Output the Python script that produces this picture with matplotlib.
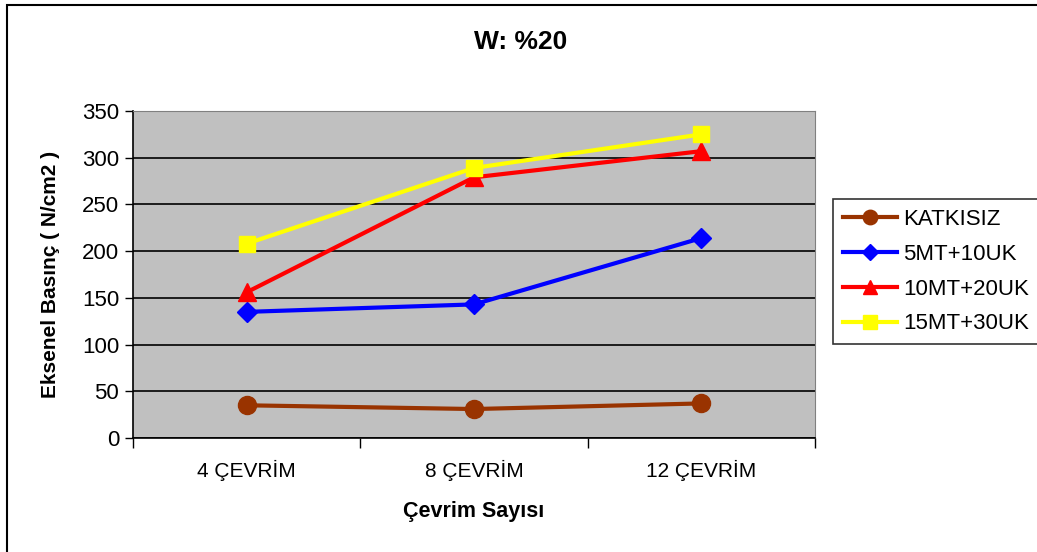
import matplotlib.pyplot as plt
import matplotlib.patches as mpatches

categories = ["4 ÇEVRİM", "8 ÇEVRİM", "12 ÇEVRİM"]
series_names = ["KATKISIZ", "5MT+10UK", "10MT+20UK", "15MT+30UK"]
katkisiz = [35, 31, 37]
mt5_uk10 = [135, 143, 214]
mt10_uk20 = [156, 279, 307]
mt15_uk30 = [208, 289, 325]
y_ticks = [0, 50, 100, 150, 200, 250, 300, 350]

plt.rcParams["font.family"] = ["Liberation Sans", "DejaVu Sans"]

fig = plt.figure(figsize=(10.37, 5.52), dpi=100)
fig.patches.append(mpatches.Rectangle((7 / 1037, -0.05), 1.1, 1 - 5 / 552 + 0.05,
                                      transform=fig.transFigure, fill=False,
                                      edgecolor="black", linewidth=1.5))
ax = fig.add_axes([133 / 1037, 1 - 438 / 552, 682 / 1037, 327 / 552])
ax.set_facecolor("#c0c0c0")

x = range(len(categories))
styles = [
    (katkisiz, "#993300", "o", 13),
    (mt5_uk10, "#0000ff", "D", 10),
    (mt10_uk20, "#ff0000", "^", 13),
    (mt15_uk30, "#ffff00", "s", 12),
]
for (vals, color, marker, ms), name in zip(styles, series_names):
    ax.plot(x, vals, color=color, marker=marker, markersize=ms, linewidth=3,
            label=name, zorder=3)

ax.set_xlim(-0.5, 2.5)
ax.set_ylim(0, 350)
ax.set_yticks(y_ticks)
ax.yaxis.grid(True, color="black", linewidth=1.2)
ax.set_axisbelow(True)
ax.set_xticks(list(x))
ax.set_xticklabels(categories, fontsize=15)
ax.set_xticks([-0.5, 0.5, 1.5, 2.5], minor=True)
ax.tick_params(axis="x", which="major", length=0, pad=16)
ax.tick_params(axis="x", which="minor", length=7, width=1, direction="out")
ax.tick_params(axis="y", length=6, width=1, labelsize=16, pad=4)
for s in ["top", "right"]:
    ax.spines[s].set_color("#808080")
ax.spines["left"].set_linewidth(1.2)
ax.spines["bottom"].set_linewidth(1.2)

ax.set_ylabel("Eksenel Basınç ( N/cm2 )", fontsize=15, fontweight="bold", labelpad=16)
ax.set_xlabel("Çevrim Sayısı", fontsize=15.5, fontweight="bold", labelpad=14)
fig.text(521 / 1037, 1 - 42 / 552, "W: %20", ha="center", va="center",
         fontsize=19, fontweight="bold")

leg = ax.legend(loc="upper left", bbox_to_anchor=(833 / 1037, 1 - 199 / 552),
                bbox_transform=fig.transFigure, fancybox=False, frameon=True,
                edgecolor="black", fontsize=16, handlelength=2.45,
                borderpad=0.45, labelspacing=0.62, handletextpad=0.27,
                borderaxespad=0, markerscale=0.8)
leg.get_frame().set_linewidth(1.2)

plt.savefig("out.png", dpi=100)
plt.close()
